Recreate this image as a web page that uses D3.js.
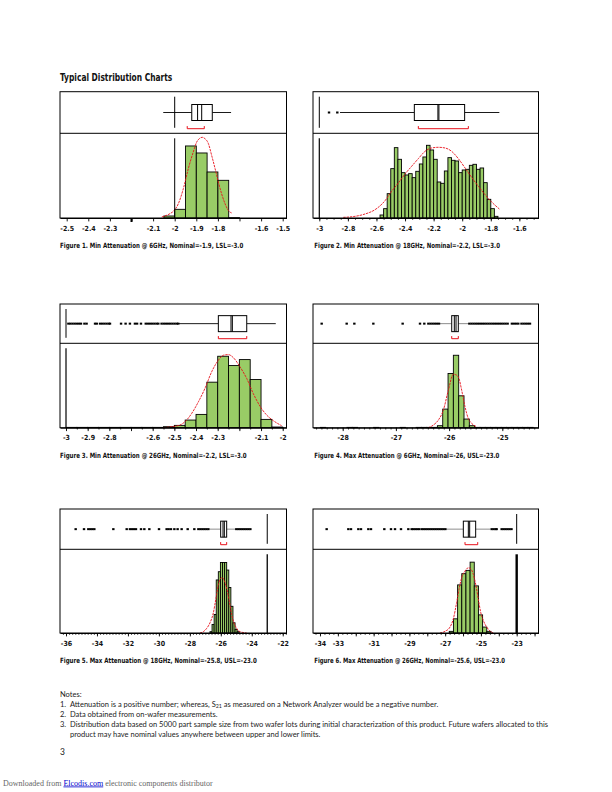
<!DOCTYPE html>
<html><head><meta charset="utf-8">
<script src="https://cdn.jsdelivr.net/npm/d3@7"></script>
<style>body{margin:0;background:#fff}svg{display:block}</style>
</head><body><svg id="c" width="612" height="792"></svg>
<script>
// ---------------- DATA ----------------
const figTitles = [
  "Figure 1. Min Attenuation @ 6GHz, Nominal=-1.9, LSL=-3.0",
  "Figure 2. Min Attenuation @ 18GHz, Nominal=-2.2, LSL=-3.0",
  "Figure 3. Min Attenuation @ 26GHz, Nominal=-2.2, LSL=-3.0",
  "Figure 4. Max Attenuation @ 6GHz, Nominal=-26, USL=-23.0",
  "Figure 5. Max Attenuation @ 18GHz, Nominal=-25.8, USL=-23.0",
  "Figure 6. Max Attenuation @ 26GHz, Nominal=-25.6, USL=-23.0"
];

// Figure 1
const fig1Domain = [-2.531, -1.4824];
const fig1Ticks = [-2.5,-2.4,-2.3,-2.2,-2.1,-2.0,-1.9,-1.8,-1.7,-1.6,-1.5];
const fig1TickLabels = ["-2.5","-2.4","-2.3","","-2.1","-2","-1.9","-1.8","","-1.6","-1.5"];
const fig1BoldTicks = [-2.2];
const fig1MinorStep = 0;
const fig1Bin = [-2.05, 0.05];
const fig1Counts = [6, 26, 216, 195, 138, 113, 1];
const fig1CurveX = [-2.060,-2.022,-2.006,-1.983,-1.960,-1.937,-1.914,-1.898,-1.886,-1.873,-1.860,-1.844,-1.829,-1.813,-1.798,-1.783,-1.767,-1.752,-1.736];
const fig1CurveY = [3,13,20,43,88,148,198,228,238,242,238,223,188,148,108,73,43,23,15];
const fig1Quartiles = [-1.921, -1.826];
const fig1Medians = [-1.894, -1.875];
const fig1Whiskers = [-2.053, -1.739];
const fig1Outliers = [];
const fig1Bracket = [-1.942, -1.863];
const fig1Spec = -2.0;

// Figure 2
const fig2Domain = [-3.0441, -1.4661];
const fig2Ticks = [-3,-2.8,-2.6,-2.4,-2.2,-2.0,-1.8,-1.6];
const fig2TickLabels = ["-3","-2.8","-2.6","-2.4","-2.2","-2","-1.8","-1.6"];
const fig2BoldTicks = [];
const fig2MinorStep = 0.05;
const fig2Bin = [-2.575, 0.025];
const fig2Counts = [9,28,73,148,211,176,136,129,133,121,140,162,183,218,204,176,108,104,141,181,173,171,136,144,146,158,161,146,150,106,56,28,5];
const fig2CurveX = [-2.832,-2.75,-2.68,-2.61,-2.54,-2.494,-2.447,-2.40,-2.354,-2.307,-2.26,-2.214,-2.167,-2.12,-2.074,-2.027,-1.98,-1.934,-1.887,-1.84,-1.794,-1.74];
const fig2CurveY = [2,5,12,25,52,80,105,132,155,178,200,210,212,210,200,178,150,122,95,70,48,27];
const fig2Quartiles = [-2.335, -1.983];
const fig2Medians = [-2.170, -2.163];
const fig2Whiskers = [-2.855, -1.74];
const fig2Outliers = [-2.932, -2.874];
const fig2Bracket = [-2.307, -1.957];
const fig2Spec = -3.0;

// Figure 3
const fig3Domain = [-3.0277, -1.9825];
const fig3Ticks = [-3,-2.9,-2.8,-2.7,-2.6,-2.5,-2.4,-2.3,-2.2,-2.1,-2.0];
const fig3TickLabels = ["-3","-2.9","-2.8","","-2.6","-2.5","-2.4","-2.3","","-2.1","-2"];
const fig3BoldTicks = [];
const fig3MinorStep = 0.05;
const fig3Bin = [-3.0, 0.05];
const fig3Counts = [1,1,1,1,1,1,1,1,1,3,7,23,40,137,215,187,205,145,25,2];
const fig3CurveX = [-2.551,-2.512,-2.474,-2.451,-2.420,-2.389,-2.359,-2.328,-2.297,-2.274,-2.251,-2.228,-2.197,-2.166,-2.136,-2.105,-2.074,-2.043,-2.005];
const fig3CurveY = [0,3,8,18,43,78,118,168,203,218,220,211,183,148,103,65,38,21,6];
const fig3Quartiles = [-2.297, -2.166];
const fig3Medians = [-2.2386, -2.2324];
const fig3Whiskers = [-2.479, -2.032];
const fig3Outliers = [-2.989,-2.98,-2.97,-2.96,-2.95,-2.94,-2.931,-2.915,-2.905,-2.866,-2.858,-2.843,-2.833,-2.823,-2.813,-2.803,-2.797,-2.746,-2.725,-2.705,-2.682,-2.672,-2.654,-2.632,-2.622,-2.612,-2.602,-2.592,-2.582,-2.574,-2.559,-2.549,-2.539,-2.529,-2.519,-2.509,-2.499,-2.489,-2.482];
const fig3Bracket = [-2.297, -2.166];
const fig3Spec = -3.0;

// Figure 4
const fig4Domain = [-28.558, -24.320];
const fig4Ticks = [-28,-27,-26,-25];
const fig4TickLabels = ["-28","-27","-26","-25"];
const fig4BoldTicks = [];
const fig4MinorStep = 0.1;
const fig4Bin = [-28.42, 0.1];
const fig4Counts = [1,0,0,0,0,1,1,0,0,0,1,0,0,0,0,1,0,0,1,1,1,1,6,56,163,218,96,26,6,1,1,1,1,1,1,1,1,1,1,1];
const fig4CurveX = [-26.39,-26.296,-26.202,-26.108,-26.014,-25.92,-25.858,-25.814,-25.764,-25.701,-25.64,-25.576,-25.482];
const fig4CurveY = [0,8,23,53,113,161,158,148,113,63,28,13,3];
const fig4Quartiles = [-25.951, -25.827];
const fig4Medians = [-25.902, -25.87];
const fig4Whiskers = [-26.18, -25.64];
const fig4Outliers = [-28.395,-27.925,-27.781,-27.424,-26.873,-26.547,-26.466,-26.39,-26.35,-26.31,-26.27,-26.23,-26.19,-25.62,-25.58,-25.54,-25.50,-25.46,-25.42,-25.38,-25.34,-25.30,-25.26,-25.22,-25.18,-25.14,-25.10,-25.06,-25.02,-24.98,-24.94,-24.90,-24.82,-24.78,-24.74,-24.70,-24.64,-24.60,-24.56,-24.52,-24.48];
const fig4Bracket = [-25.951, -25.827];
const fig4Spec = null;

// Figure 5
const fig5Domain = [-36.388, -21.756];
const fig5Ticks = [-36,-34,-32,-30,-28,-26,-24,-22];
const fig5TickLabels = ["-36","-34","-32","-30","-28","-26","-24","-22"];
const fig5BoldTicks = [];
const fig5MinorStep = 0.2;
const fig5Bin = [-26.70, 0.135];
const fig5Counts = [4,26,56,161,186,214,214,214,191,138,81,31,11,4];
const fig5CurveX = [-27.344,-27.128,-26.913,-26.698,-26.482,-26.31,-26.159,-26.008,-25.901,-25.793,-25.621,-25.449,-25.298,-25.147,-24.975,-24.76,-24.329];
const fig5CurveY = [0,4,14,31,61,106,146,166,168,161,136,96,56,31,14,4,0];
const fig5Quartiles = [-26.009, -25.621];
const fig5Medians = [-25.858, -25.772];
const fig5Whiskers = [-26.70, -25.08];
const fig5Outliers = [-35.376,-34.837,-34.56,-34.43,-34.30,-34.17,-32.942,-32.08,-31.87,-31.74,-31.61,-31.48,-31.155,-30.94,-30.617,-29.992,-29.50,-29.37,-29.22,-29.00,-28.79,-28.53,-28.14,-27.71,-27.45,-27.32,-27.19,-27.06,-26.93,-26.80,-25.0,-24.87,-24.74,-24.61,-24.48,-24.35,-24.22,-24.09];
const fig5Bracket = [-26.009, -25.621];
const fig5Spec = -23.0;

// Figure 6
const fig6Domain = [-34.391, -21.780];
const fig6Ticks = [-34,-33,-32,-31,-30,-29,-28,-27,-26,-25,-24,-23,-22];
const fig6TickLabels = ["-34","-33","","-31","","-29","","-27","","-25","","-23",""];
const fig6BoldTicks = [];
const fig6MinorStep = 0.25;
const fig6Bin = [-26.77, 0.233];
const fig6Counts = [5,43,146,180,190,215,143,55,18,5];
const fig6CurveX = [-27.289,-27.009,-26.729,-26.543,-26.356,-26.207,-26.077,-25.89,-25.704,-25.573,-25.424,-25.275,-25.145,-25.014,-24.865,-24.678,-24.492,-24.306];
const fig6CurveY = [0,5,18,43,93,138,168,188,198,195,178,143,103,63,38,18,6,0];
const fig6Quartiles = [-25.984, -25.294];
const fig6Medians = [-25.704, -25.629];
const fig6Whiskers = [-26.97, -24.49];
const fig6Outliers = [-33.627,-32.415,-32.266,-31.856,-31.707,-31.297,-31.148,-30.402,-30.029,-29.805,-29.47,-29.06,-28.873,-28.78,-28.67,-28.56,-28.45,-28.31,-28.20,-28.09,-27.98,-27.87,-27.76,-27.65,-27.54,-27.43,-27.32,-27.21,-27.10,-26.99,-24.40,-24.29,-24.18,-24.12,-23.84,-23.73,-23.62,-23.51,-23.40,-23.29];
const fig6Bracket = [-25.89, -25.18];
const fig6Spec = -23.0;

const countMax = 254;

// ---------------- LAYOUT / STYLE ----------------
const condensed = "'Liberation Sans Narrow','DejaVu Sans Condensed','Roboto Condensed','Arial Narrow',sans-serif";
const rows = [
  {top: 91.7, divider: 133.3, base: 218, label: 230.6, caption: 247.6},
  {top: 304, divider: 343.3, base: 427.7, label: 439.6, caption: 457.6},
  {top: 509, divider: 549.3, base: 633, label: 645.6, caption: 662.6}
];
const cols = [{x0: 60, x1: 286.5, cap: 60}, {x0: 313, x1: 538.5, cap: 314.3}];
const captionWidths = [183.3, 185.7, 186.7, 185, 196.7, 190.7];

const figs = [
  {domain: fig1Domain, ticks: fig1Ticks, labels: fig1TickLabels, bold: fig1BoldTicks, minor: fig1MinorStep, bin: fig1Bin, counts: fig1Counts, cx: fig1CurveX, cy: fig1CurveY, q: fig1Quartiles, med: fig1Medians, wh: fig1Whiskers, out: fig1Outliers, br: fig1Bracket, spec: fig1Spec, whColor: "#000", specW: 1, specWh: 1},
  {domain: fig2Domain, ticks: fig2Ticks, labels: fig2TickLabels, bold: fig2BoldTicks, minor: fig2MinorStep, bin: fig2Bin, counts: fig2Counts, cx: fig2CurveX, cy: fig2CurveY, q: fig2Quartiles, med: fig2Medians, wh: fig2Whiskers, out: fig2Outliers, br: fig2Bracket, spec: fig2Spec, whColor: "#000", specW: 1, specWh: 1.2},
  {domain: fig3Domain, ticks: fig3Ticks, labels: fig3TickLabels, bold: fig3BoldTicks, minor: fig3MinorStep, bin: fig3Bin, counts: fig3Counts, cx: fig3CurveX, cy: fig3CurveY, q: fig3Quartiles, med: fig3Medians, wh: fig3Whiskers, out: fig3Outliers, br: fig3Bracket, spec: fig3Spec, whColor: "#000", specW: 1, specWh: 1.2},
  {domain: fig4Domain, ticks: fig4Ticks, labels: fig4TickLabels, bold: fig4BoldTicks, minor: fig4MinorStep, bin: fig4Bin, counts: fig4Counts, cx: fig4CurveX, cy: fig4CurveY, q: fig4Quartiles, med: fig4Medians, wh: fig4Whiskers, out: fig4Outliers, br: fig4Bracket, spec: fig4Spec, whColor: "#808080", specW: 1, specWh: 1},
  {domain: fig5Domain, ticks: fig5Ticks, labels: fig5TickLabels, bold: fig5BoldTicks, minor: fig5MinorStep, bin: fig5Bin, counts: fig5Counts, cx: fig5CurveX, cy: fig5CurveY, q: fig5Quartiles, med: fig5Medians, wh: fig5Whiskers, out: fig5Outliers, br: fig5Bracket, spec: fig5Spec, whColor: "#808080", specW: 1, specWh: 1.3},
  {domain: fig6Domain, ticks: fig6Ticks, labels: fig6TickLabels, bold: fig6BoldTicks, minor: fig6MinorStep, bin: fig6Bin, counts: fig6Counts, cx: fig6CurveX, cy: fig6CurveY, q: fig6Quartiles, med: fig6Medians, wh: fig6Whiskers, out: fig6Outliers, br: fig6Bracket, spec: fig6Spec, whColor: "#808080", specW: 1, specWh: 2.4}
];

const svg = d3.select("#c");
svg.append("rect").attr("width", 612).attr("height", 792).attr("fill", "#fff");

// Title
svg.append("text").attr("x", 60).attr("y", 80.6)
  .attr("font-family", condensed).attr("font-weight", "bold").attr("font-size", 10)
  .attr("textLength", 112.3).attr("lengthAdjust", "spacingAndGlyphs")
  .attr("fill", "#111").text("Typical Distribution Charts");

figs.forEach((f, i) => {
  const row = rows[Math.floor(i / 2)];
  const col = cols[i % 2];
  const g = svg.append("g");
  const xs = d3.scaleLinear().domain(f.domain).range([col.x0, col.x1]);
  const ys = d3.scaleLinear().domain([0, countMax]).range([row.base, row.divider]);

  // histogram bars
  const bars = f.counts.map((c, k) => ({x0: f.bin[0] + k * f.bin[1], x1: f.bin[0] + (k + 1) * f.bin[1], c}))
    .filter(d => d.c > 0);
  g.selectAll("rect.bar").data(bars).join("rect").attr("class", "bar")
    .attr("x", d => xs(d.x0)).attr("width", d => xs(d.x1) - xs(d.x0))
    .attr("y", d => ys(d.c)).attr("height", d => row.base - ys(d.c))
    .attr("fill", "#99cc66").attr("stroke", "#000").attr("stroke-width", 0.9);

  // fitted curve
  const pts = f.cx.map((x, k) => [x, f.cy[k]]);
  g.append("path").datum(pts)
    .attr("d", d3.line().x(d => xs(d[0])).y(d => ys(d[1])).curve(d3.curveMonotoneX))
    .attr("fill", "none").attr("stroke", "#e8101a").attr("stroke-width", 0.9)
    .attr("stroke-dasharray", "2.4,0.9");

  // spec lines
  if (f.spec !== null) {
    g.append("line").attr("x1", xs(f.spec)).attr("x2", xs(f.spec))
      .attr("y1", row.top + 5).attr("y2", row.divider - 5.5)
      .attr("stroke", "#000").attr("stroke-width", f.specW);
    g.append("line").attr("x1", xs(f.spec)).attr("x2", xs(f.spec))
      .attr("y1", row.divider + 5).attr("y2", row.base)
      .attr("stroke", "#000").attr("stroke-width", f.specWh);
  }

  // box plot
  const cy = (row.top + row.divider) / 2;
  g.append("line").attr("x1", xs(f.wh[0])).attr("x2", xs(f.q[0])).attr("y1", cy).attr("y2", cy)
    .attr("stroke", f.whColor).attr("stroke-width", 0.9);
  g.append("line").attr("x1", xs(f.q[1])).attr("x2", xs(f.wh[1])).attr("y1", cy).attr("y2", cy)
    .attr("stroke", f.whColor).attr("stroke-width", 0.9);
  g.selectAll("rect.out").data(f.out).join("rect").attr("class", "out")
    .attr("x", d => xs(d) - 1.2).attr("y", cy - 1).attr("width", 2.4).attr("height", 2).attr("fill", "#000");
  g.append("rect").attr("x", xs(f.q[0])).attr("width", xs(f.q[1]) - xs(f.q[0]))
    .attr("y", cy - 8).attr("height", 16).attr("fill", "#fff").attr("stroke", "#000").attr("stroke-width", 1);
  g.selectAll("line.med").data(f.med).join("line").attr("class", "med")
    .attr("x1", d => xs(d)).attr("x2", d => xs(d)).attr("y1", cy - 8).attr("y2", cy + 8)
    .attr("stroke", "#000").attr("stroke-width", 1);
  const by = row.divider - 4.6;
  g.append("path")
    .attr("d", `M${xs(f.br[0])},${by - 2.6}V${by}H${xs(f.br[1])}V${by - 2.6}`)
    .attr("fill", "none").attr("stroke", "#e8101a").attr("stroke-width", 1);

  // frame
  g.append("rect").attr("x", col.x0).attr("y", row.top).attr("width", col.x1 - col.x0)
    .attr("height", row.base - row.top).attr("fill", "none").attr("stroke", "#000").attr("stroke-width", 1);
  g.append("line").attr("x1", col.x0).attr("x2", col.x1).attr("y1", row.divider).attr("y2", row.divider)
    .attr("stroke", "#000").attr("stroke-width", 1);

  // axis
  if (f.minor > 0) {
    const mv = d3.range(Math.ceil(f.domain[0] / f.minor) * f.minor, f.domain[1], f.minor);
    const ma = g.append("g").attr("transform", `translate(0,${row.base})`)
      .call(d3.axisBottom(xs).tickValues(mv).tickSize(1.8).tickFormat(""));
    ma.select(".domain").remove();
    ma.selectAll("line").attr("stroke", "#000").attr("stroke-width", 0.8);
  }
  const ax = g.append("g").attr("transform", `translate(0,${row.base})`)
    .call(d3.axisBottom(xs).tickValues(f.ticks).tickSize(3.4).tickSizeOuter(0)
      .tickFormat((d, k) => f.labels[k]));
  ax.select(".domain").attr("stroke", "#000").attr("stroke-width", 1);
  ax.selectAll(".tick line").attr("stroke", "#000").attr("stroke-width", 0.9);
  ax.selectAll(".tick text").attr("y", row.label - row.base).attr("dy", null)
    .attr("font-family", condensed).attr("font-weight", "bold").attr("font-size", 7).attr("fill", "#111");
  g.selectAll("line.bold").data(f.bold).join("line").attr("class", "bold")
    .attr("x1", d => xs(d)).attr("x2", d => xs(d)).attr("y1", row.base).attr("y2", row.base + 4)
    .attr("stroke", "#000").attr("stroke-width", 2);

  // caption
  g.append("text").attr("x", col.cap).attr("y", row.caption)
    .attr("font-family", condensed).attr("font-weight", "bold").attr("font-size", 7.2)
    .attr("textLength", captionWidths[i]).attr("lengthAdjust", "spacingAndGlyphs")
    .attr("fill", "#111").text(figTitles[i]);
});

// Notes
const noteFont = "Lato, 'Open Sans', sans-serif";
const notes = svg.append("g").attr("font-family", noteFont).attr("font-size", 7.5).attr("fill", "#222");
notes.append("text").attr("x", 60).attr("y", 696.5).text("Notes:");
notes.append("text").attr("x", 60).attr("y", 706.5).text("1.");
const n1 = notes.append("text").attr("x", 70).attr("y", 706.5);
n1.append("tspan").text("Attenuation is a positive number; whereas, S");
n1.append("tspan").attr("dy", 1.7).attr("font-size", 5.3).text("21");
n1.append("tspan").attr("dy", -1.7).text(" as measured on a Network Analyzer would be a negative number.");
notes.append("text").attr("x", 60).attr("y", 716.5).text("2.");
notes.append("text").attr("x", 70).attr("y", 716.5).text("Data obtained from on-wafer measurements.");
notes.append("text").attr("x", 60).attr("y", 726.5).text("3.");
notes.append("text").attr("x", 70).attr("y", 726.5).text("Distribution data based on 5000 part sample size from two wafer lots during initial characterization of this product. Future wafers allocated to this");
notes.append("text").attr("x", 70).attr("y", 736.5).text("product may have nominal values anywhere between upper and lower limits.");
notes.append("text").attr("x", 60).attr("y", 755).attr("font-size", 8.5).text("3");

// Footer
const ft = svg.append("text").attr("x", 3).attr("y", 785.5)
  .attr("font-family", "'Liberation Serif','DejaVu Serif',serif").attr("font-size", 8).attr("fill", "#666");
ft.append("tspan").text("Downloaded from ");
ft.append("tspan").attr("fill", "#0000cc").attr("text-decoration", "underline").text("Elcodis.com");
ft.append("tspan").text("  electronic components distributor");
</script></body></html>
